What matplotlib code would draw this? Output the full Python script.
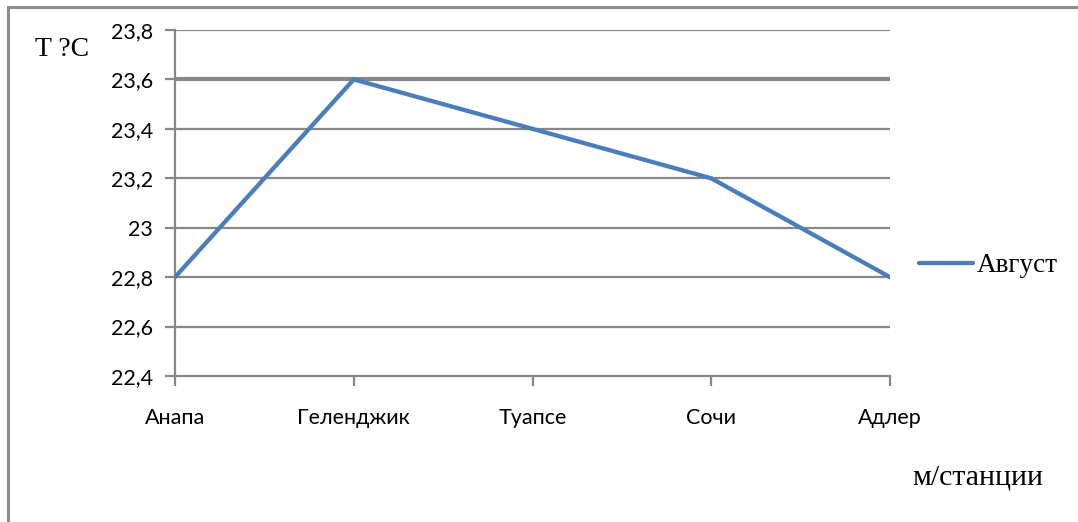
import matplotlib
matplotlib.use("Agg")
import matplotlib.pyplot as plt
from matplotlib.patches import Rectangle

stations = ["Анапа", "Геленджик", "Туапсе", "Сочи", "Адлер"]
august = [22.8, 23.6, 23.4, 23.2, 22.8]
y_ticks = [22.4, 22.6, 22.8, 23.0, 23.2, 23.4, 23.6, 23.8]
y_labels = ["22,4", "22,6", "22,8", "23", "23,2", "23,4", "23,6", "23,8"]

W, H = 1078, 522
fig = plt.figure(figsize=(W / 100, H / 100), dpi=100)
fig.patch.set_facecolor("white")

# outer chart frame (runs off the right and bottom edges)
fig.add_artist(Rectangle((8 / W, -0.05), 1.2, 1 - 7 / H + 0.05,
                         transform=fig.transFigure, fill=False,
                         edgecolor="#8c8c8c", linewidth=2.2))

ax = fig.add_axes([175 / W, 1 - 376 / H, (890 - 175) / W, (376 - 30) / H])
x = list(range(len(stations)))

grid_color = "#878787"
for v in y_ticks[1:]:
    lw = 3.0 if abs(v - 23.6) < 1e-9 else 1.6
    ax.axhline(v, color=grid_color, linewidth=lw, zorder=1)

ax.plot(x, august, color="#4a7ebb", linewidth=3.1, solid_capstyle="round",
        solid_joinstyle="miter", zorder=3, label="Август")

ax.set_xlim(0, len(stations) - 1)
ax.set_ylim(22.4, 23.8)
ax.set_yticks(y_ticks)
ax.set_yticklabels(y_labels)
ax.set_xticks(x)
ax.set_xticklabels(stations)

for side in ["top", "right"]:
    ax.spines[side].set_visible(False)
for side in ["left", "bottom"]:
    ax.spines[side].set_color(grid_color)
    ax.spines[side].set_linewidth(1.6)

ax.tick_params(axis="both", colors=grid_color, width=1.6, length=7,
               labelcolor="black", labelsize=15.5)
ax.tick_params(axis="y", pad=9)
ax.tick_params(axis="x", pad=16)
for lab in ax.get_xticklabels() + ax.get_yticklabels():
    lab.set_fontfamily("Lato")
ax.set_facecolor("none")

leg = fig.legend(loc="center left", bbox_to_anchor=(919 / W, 1 - 266 / H),
                 frameon=False, handlelength=2.0, handletextpad=0.12,
                 borderpad=0, borderaxespad=0,
                 prop={"family": "Liberation Serif", "size": 19.5})

fig.text(35 / W, 1 - 50 / H, "T ?C", fontsize=20, family="Liberation Serif",
         va="center", ha="left")
fig.text(1043 / W, 1 - 477 / H, "м/станции", fontsize=21.5,
         family="Liberation Serif", va="center", ha="right")

fig.savefig("out.png", dpi=100, facecolor="white")
